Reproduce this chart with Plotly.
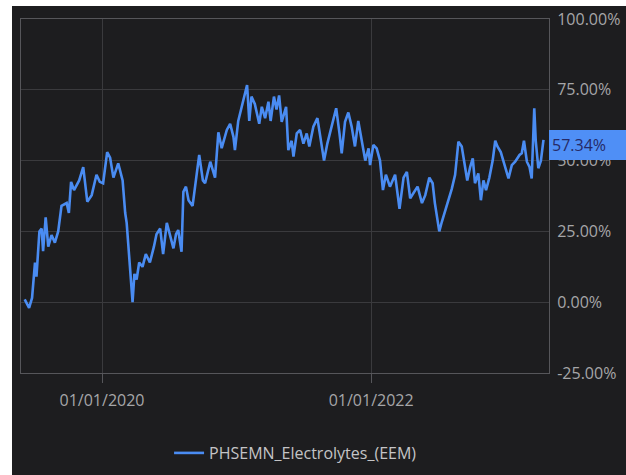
import plotly.graph_objects as go

# ---- data ----
dates = [
    "2019-06-05", "2019-06-17", "2019-06-25", "2019-07-03", "2019-07-07", "2019-07-15",
    "2019-07-21", "2019-07-25", "2019-08-01", "2019-08-08", "2019-08-17", "2019-08-26",
    "2019-09-04", "2019-09-13", "2019-09-27", "2019-10-03", "2019-10-09", "2019-10-17",
    "2019-10-31", "2019-11-11", "2019-11-22", "2019-12-04", "2019-12-17", "2019-12-26",
    "2020-01-04", "2020-01-15", "2020-01-23", "2020-02-01", "2020-02-14", "2020-02-26",
    "2020-03-04", "2020-03-08", "2020-03-12", "2020-03-20", "2020-03-24", "2020-03-29",
    "2020-04-04", "2020-04-11", "2020-04-20", "2020-04-29", "2020-05-10", "2020-05-21",
    "2020-05-28", "2020-06-07", "2020-06-15", "2020-06-25", "2020-07-06", "2020-07-13",
    "2020-07-20", "2020-07-26", "2020-08-04", "2020-08-09", "2020-08-16", "2020-08-23",
    "2020-09-03", "2020-09-14", "2020-09-21", "2020-10-01", "2020-10-07", "2020-10-21",
    "2020-11-03", "2020-11-12", "2020-11-21", "2020-12-05", "2020-12-14", "2020-12-23",
    "2020-12-27", "2021-01-05", "2021-01-14", "2021-01-23", "2021-01-29", "2021-02-04",
    "2021-02-10", "2021-02-19", "2021-03-03", "2021-03-10", "2021-03-19", "2021-03-28",
    "2021-04-03", "2021-04-12", "2021-04-19", "2021-04-26", "2021-05-03", "2021-05-15",
    "2021-05-21", "2021-05-30", "2021-06-04", "2021-06-13", "2021-06-22", "2021-07-01",
    "2021-07-10", "2021-07-17", "2021-07-28", "2021-08-08", "2021-08-15", "2021-08-26",
    "2021-09-04", "2021-09-16", "2021-09-28", "2021-10-07", "2021-10-13", "2021-10-22",
    "2021-10-31", "2021-11-09", "2021-11-18", "2021-11-27", "2021-12-07", "2021-12-16",
    "2021-12-25", "2021-12-29", "2022-01-07", "2022-01-16", "2022-01-25", "2022-02-02",
    "2022-02-10", "2022-02-21", "2022-03-07", "2022-03-19", "2022-03-30", "2022-04-08",
    "2022-04-17", "2022-04-26", "2022-05-07", "2022-05-19", "2022-05-28", "2022-06-08",
    "2022-06-17", "2022-06-23", "2022-06-30", "2022-07-05", "2022-07-12", "2022-07-21",
    "2022-07-30", "2022-08-08", "2022-08-17", "2022-08-26", "2022-09-04", "2022-09-13",
    "2022-09-19", "2022-09-27", "2022-10-04", "2022-10-10", "2022-10-19", "2022-10-26",
    "2022-11-02", "2022-11-09", "2022-11-18", "2022-11-27", "2022-12-04", "2022-12-10",
    "2022-12-19", "2022-12-28", "2023-01-09", "2023-01-18", "2023-01-27", "2023-02-08",
    "2023-02-14", "2023-02-20", "2023-02-28", "2023-03-07", "2023-03-13", "2023-03-20",
    "2023-03-24", "2023-03-31", "2023-04-07", "2023-04-14",
]
values = [
    1.0, -2.0, 1.5, 14.0, 9.0, 25.0,
    26.0, 18.0, 30.0, 19.6, 23.7, 21.0,
    25.0, 34.0, 35.0, 31.5, 42.5, 39.6,
    43.0, 47.7, 35.5, 37.8, 45.0, 42.5,
    42.0, 53.0, 51.0, 44.0, 49.0, 43.0,
    31.5, 28.0, 21.0, 8.0, 0.0, 10.0,
    8.0, 14.0, 12.5, 17.0, 14.0, 19.6,
    24.0, 26.0, 17.0, 28.0, 23.0, 19.0,
    24.0, 25.5, 17.8, 39.0, 40.8, 36.0,
    34.0, 46.0, 52.0, 43.0, 42.0, 49.6,
    44.0, 60.0, 54.4, 60.8, 63.0, 58.4,
    53.7, 64.0, 69.0, 73.8, 76.7, 64.0,
    72.6, 70.0, 63.0, 69.0, 65.0, 70.8,
    64.0, 72.6, 68.0, 73.0, 63.7, 69.0,
    53.7, 57.0, 51.4, 59.6, 60.8, 56.0,
    59.6, 55.0, 62.0, 65.0, 59.6, 50.0,
    56.0, 62.6, 68.5, 59.6, 52.6, 63.7,
    67.0, 62.0, 55.0, 64.0, 56.0, 50.0,
    54.3, 48.4, 55.5, 54.3, 50.0, 39.6,
    45.0, 40.8, 45.0, 33.0, 44.0, 46.0,
    36.7, 38.5, 40.8, 35.0, 37.8, 44.0,
    42.0, 35.0, 29.0, 25.0, 28.4, 32.0,
    36.0, 40.0, 45.0, 56.7, 55.0, 46.7,
    43.0, 47.8, 50.8, 42.0, 45.5, 36.0,
    43.0, 39.6, 44.0, 50.0, 57.0, 55.0,
    53.0, 49.0, 43.7, 48.4, 49.6, 52.0,
    52.6, 57.0, 49.6, 47.8, 43.7, 68.5,
    57.0, 47.3, 50.0, 57.34,
]
series_name = "PHSEMN_Electrolytes_(EEM)"
x_tick_vals = ["2020-01-01", "2022-01-01"]
x_tick_text = ["01/01/2020", "01/01/2022"]
y_tick_vals = [-25, 0, 25, 50, 75, 100]
y_tick_text = ["-25.00%", "0.00%", "25.00%", "50.00%", "75.00%", "100.00%"]
x_range = ["2019-05-26", "2023-04-29"]
y_range = [-25, 100]

BG = "#1d1d1f"
GRID = "#3a3a3d"
FRAME = "#56565a"
TICKC = "#a6a6a8"
LINEC = "#4a8cf2"
FONT = "Open Sans"

fig = go.Figure()
fig.add_trace(go.Scatter(
    x=dates, y=values, mode="lines", name=series_name,
    line=dict(color=LINEC, width=2.6), showlegend=True,
))

last_val = values[-1]
fig.add_annotation(
    xref="paper", yref="y", x=1.0, y=last_val, xanchor="left", yanchor="middle",
    text=f"{last_val:.2f}%", showarrow=False, align="left",
    bgcolor="#4f8ff6", borderpad=3, borderwidth=0, width=71, height=24, yshift=-5,
    font=dict(family=FONT, size=16, color="#262a66"),
)

# white strips at the left and top of the screenshot
fig.add_shape(type="rect", xref="paper", yref="paper", x0=-0.06, x1=-0.01705,
              y0=-0.4, y1=1.1, fillcolor="white", line=dict(width=0), layer="above")
fig.add_shape(type="rect", xref="paper", yref="paper", x0=-0.06, x1=1.2,
              y0=1.0367, y1=1.1, fillcolor="white", line=dict(width=0), layer="above")

fig.update_layout(
    width=626, height=475,
    margin=dict(l=21, r=77, t=19, b=102, autoexpand=False),
    paper_bgcolor=BG, plot_bgcolor=BG,
    font=dict(family=FONT, size=16, color=TICKC),
    showlegend=True,
    legend=dict(orientation="h", x=0.52, xanchor="center", y=-0.226, yanchor="middle",
                font=dict(family=FONT, size=16, color="#c4c4c6"), bgcolor="rgba(0,0,0,0)"),
    xaxis=dict(
        type="date", range=x_range, tickvals=x_tick_vals, ticktext=x_tick_text,
        showgrid=True, gridcolor=GRID, gridwidth=1,
        showline=True, linecolor=FRAME, linewidth=1, mirror=True,
        ticks="outside", ticklen=9, tickcolor=FRAME, ticklabelstandoff=4,
        tickfont=dict(family=FONT, size=16, color=TICKC), zeroline=False,
    ),
    yaxis=dict(
        side="right", range=y_range, tickvals=y_tick_vals, ticktext=y_tick_text,
        showgrid=True, gridcolor=GRID, gridwidth=1,
        showline=True, linecolor=FRAME, linewidth=1, mirror=True,
        ticks="", ticklabelstandoff=4,
        tickfont=dict(family=FONT, size=16, color=TICKC), zeroline=False,
    ),
)

fig.write_html("out.html", config={"displayModeBar": False},
               post_script="document.body.style.margin='0px';")
